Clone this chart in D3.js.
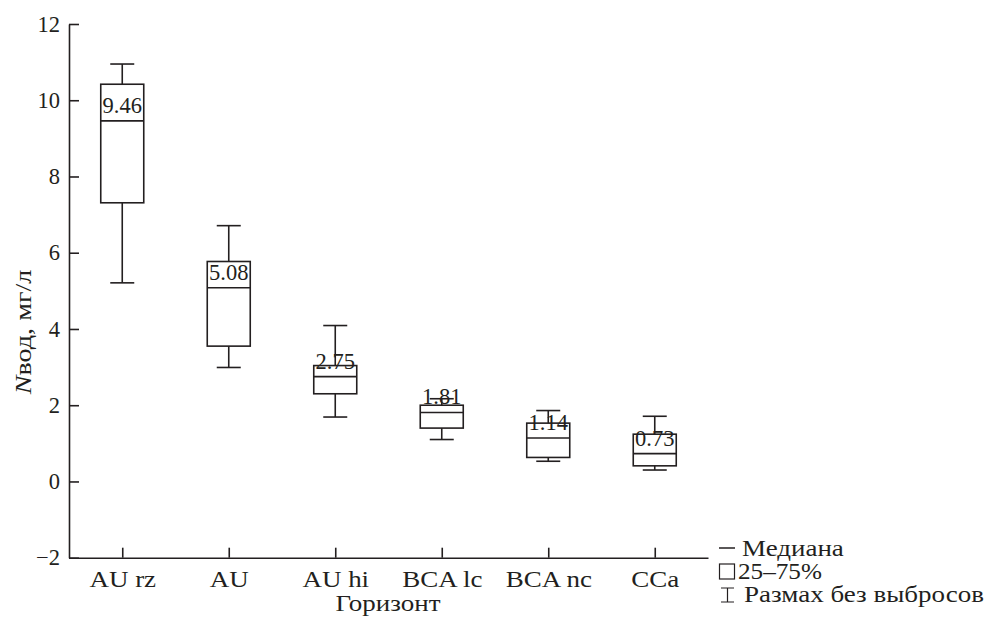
<!DOCTYPE html>
<html>
<head>
<meta charset="utf-8">
<script src="https://cdnjs.cloudflare.com/ajax/libs/d3/7.8.5/d3.min.js"></script>
<style>
  body { margin: 0; background: #fff; }
  svg text { font-family: "Liberation Serif", "Times New Roman", serif; fill: #231f20; }
</style>
</head>
<body>
<div id="chart"></div>
<script>
// categories (horizons) and box statistics
var horizons = ["AU rz", "AU", "AU hi", "BCA lc", "BCA nc", "CCa"];
var mins    = [5.21, 2.99, 1.69, 1.10, 0.53, 0.30];
var q1s     = [7.31, 3.55, 2.30, 1.40, 0.63, 0.41];
var medians = [9.46, 5.08, 2.75, 1.81, 1.14, 0.73];
var q3s     = [10.42, 5.77, 3.04, 2.00, 1.53, 1.24];
var maxs    = [10.95, 6.71, 4.09, 2.17, 1.86, 1.71];
var yTicks  = [-2, 0, 2, 4, 6, 8, 10, 12];
var legendLabels = ["Медиана", "25\u201375%", "Размах без выбросов"];

var ink = "#231f20";
var W = 990, H = 617;

var svg = d3.select("#chart").append("svg")
    .attr("width", W).attr("height", H);

// scales
var x = d3.scalePoint().domain(horizons).range([69, 708]).padding(0.5);
var y = d3.scaleLinear().domain([-2, 12]).range([557.7, 24]);

// y axis, ticks pointing inward
var yAxis = svg.append("g")
    .attr("transform", "translate(69,0)")
    .call(d3.axisLeft(y).tickValues(yTicks).tickSize(-10).tickSizeOuter(0).tickPadding(9));
yAxis.selectAll("text").attr("font-size", 22.5).attr("x", -9);

// x axis, ticks pointing up
var xAxis = svg.append("g")
    .attr("transform", "translate(0,557.7)")
    .call(d3.axisBottom(x).tickSize(-10).tickSizeOuter(0).tickPadding(13));
xAxis.selectAll("text").attr("font-size", 22.5).attr("transform", "scale(1.2,1)");

svg.selectAll(".domain, .tick line")
    .attr("stroke", ink).attr("stroke-width", 1.6);

// box data built from arrays
var boxes = horizons.map(function(h, i) {
    return {name: h, min: mins[i], q1: q1s[i], med: medians[i], q3: q3s[i], max: maxs[i]};
});

var boxW = 43, capW = 24;
var g = svg.append("g").attr("fill", "none").attr("stroke", ink).attr("stroke-width", 1.6);

var b = g.selectAll(".box").data(boxes).enter().append("g").attr("class", "box");

// whiskers
b.append("line")
    .attr("x1", function(d) { return x(d.name); }).attr("x2", function(d) { return x(d.name); })
    .attr("y1", function(d) { return y(d.max); }).attr("y2", function(d) { return y(d.q3); });
b.append("line")
    .attr("x1", function(d) { return x(d.name); }).attr("x2", function(d) { return x(d.name); })
    .attr("y1", function(d) { return y(d.q1); }).attr("y2", function(d) { return y(d.min); });
// caps
b.append("line")
    .attr("x1", function(d) { return x(d.name) - capW / 2; }).attr("x2", function(d) { return x(d.name) + capW / 2; })
    .attr("y1", function(d) { return y(d.max); }).attr("y2", function(d) { return y(d.max); });
b.append("line")
    .attr("x1", function(d) { return x(d.name) - capW / 2; }).attr("x2", function(d) { return x(d.name) + capW / 2; })
    .attr("y1", function(d) { return y(d.min); }).attr("y2", function(d) { return y(d.min); });
// box
b.append("rect")
    .attr("x", function(d) { return x(d.name) - boxW / 2; })
    .attr("y", function(d) { return y(d.q3); })
    .attr("width", boxW)
    .attr("height", function(d) { return y(d.q1) - y(d.q3); });
// median
b.append("line")
    .attr("x1", function(d) { return x(d.name) - boxW / 2; }).attr("x2", function(d) { return x(d.name) + boxW / 2; })
    .attr("y1", function(d) { return y(d.med); }).attr("y2", function(d) { return y(d.med); });

// median labels
svg.selectAll(".medlab").data(boxes).enter().append("text")
    .attr("class", "medlab")
    .attr("x", function(d) { return x(d.name); })
    .attr("y", function(d) { return y(d.med) - 8; })
    .attr("text-anchor", "middle")
    .attr("font-size", 22.5)
    .text(function(d) { return d.med.toFixed(2); });

// axis titles
svg.append("text")
    .attr("transform", "translate(388,611) scale(1.2,1)")
    .attr("text-anchor", "middle").attr("font-size", 22.5)
    .text("Горизонт");

var yt = svg.append("text")
    .attr("transform", "translate(31,332) rotate(-90) scale(1.25,1)")
    .attr("text-anchor", "middle").attr("font-size", 22.5);
yt.append("tspan").attr("font-style", "italic").text("N");
yt.append("tspan").text("вод, мг/л");

// legend
var legY = [556, 579, 602];
var lg = svg.append("g");
lg.append("line").attr("x1", 719).attr("x2", 735).attr("y1", legY[0] - 8).attr("y2", legY[0] - 8)
    .attr("stroke", ink).attr("stroke-width", 1.5);
lg.append("rect").attr("x", 719.5).attr("y", legY[1] - 15).attr("width", 15).attr("height", 15)
    .attr("fill", "none").attr("stroke", ink).attr("stroke-width", 1.2);
lg.append("path").attr("d", "M721," + (legY[2] - 14) + "H734M727.5," + (legY[2] - 14) + "V" + legY[2] + "M721," + legY[2] + "H734")
    .attr("fill", "none").attr("stroke", ink).attr("stroke-width", 1.2);
var legX = [742, 738, 744];
var legScale = [1.2, 1.12, 1.2];
lg.selectAll(".legtext").data(legendLabels).enter().append("text")
    .attr("transform", function(d, i) { return "translate(" + legX[i] + "," + legY[i] + ") scale(" + legScale[i] + ",1)"; })
    .attr("font-size", 22.5)
    .text(function(d) { return d; });
</script>
</body>
</html>
